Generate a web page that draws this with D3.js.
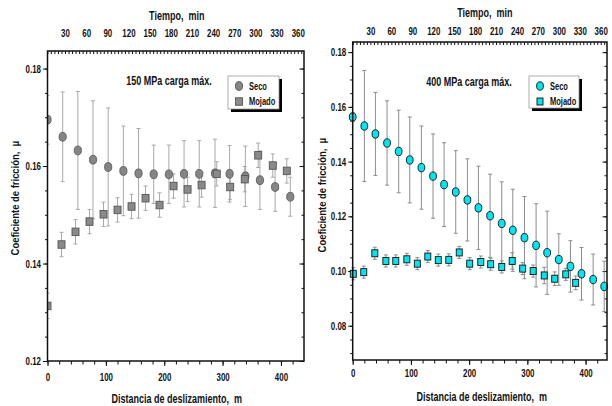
<!DOCTYPE html>
<html lang="es">
<head>
<meta charset="utf-8">
<title>Coeficiente de fricción</title>
<style>
  body { margin: 0; background: #fff; }
  text { font-family: "Liberation Sans Narrow", "Arial Narrow", "Liberation Sans", Arial, sans-serif; font-weight: bold; fill: #111; white-space: pre; }
  .ytitle { font-family: "Liberation Sans", Arial, sans-serif; font-size: 11.5px; }
</style>
</head>
<body>
<svg width="612" height="406"></svg>
<script src="https://d3js.org/d3.v7.min.js"></script>
<script>
// ticks shared by both panels
var distTicks = [0, 100, 200, 300, 400];
var tiempoTicks = [30, 60, 90, 120, 150, 180, 210, 240, 270, 300, 330, 360];

// 150 MPa - Seco (circles)
var seco150X   = [0, 26, 52, 78, 104, 130, 156, 182, 208, 234, 260, 287, 312, 339, 364, 390, 416];
var seco150Mu  = [0.1695, 0.1660, 0.1632, 0.1613, 0.1598, 0.1590, 0.1585, 0.1583, 0.1583, 0.1584, 0.1584, 0.1585, 0.1584, 0.1579, 0.1571, 0.1557, 0.1537];
var seco150Err = [0.0050, 0.0092, 0.0121, 0.0121, 0.0121, 0.0092, 0.0092, 0.0060, 0.0060, 0.0068, 0.0068, 0.0070, 0.0058, 0.0062, 0.0060, 0.0050, 0.0040];

// 150 MPa - Mojado (squares)
var mojado150X   = [0, 24, 48, 72, 96, 120, 144, 168, 192, 216, 240, 264, 290, 313, 338, 361, 386, 410];
var mojado150Mu  = [0.1313, 0.1439, 0.1465, 0.1486, 0.1501, 0.1510, 0.1517, 0.1534, 0.1520, 0.1559, 0.1552, 0.1561, 0.1584, 0.1557, 0.1573, 0.1622, 0.1601, 0.1590];
var mojado150Err = [0.0026, 0.0025, 0.0025, 0.0025, 0.0025, 0.0025, 0.0025, 0.0025, 0.0025, 0.0025, 0.0025, 0.0025, 0.0025, 0.0026, 0.0026, 0.0025, 0.0024, 0.0025];

// 400 MPa - Seco (circles)
var seco400X   = [0, 20, 39, 59, 79, 98, 118, 138, 157, 177, 197, 216, 236, 256, 275, 295, 315, 334, 354, 374, 393, 413, 432];
var seco400Mu  = [0.1563, 0.1530, 0.1501, 0.1468, 0.1437, 0.1406, 0.1378, 0.1347, 0.1316, 0.1289, 0.1260, 0.1231, 0.1202, 0.1174, 0.1149, 0.1122, 0.1094, 0.1067, 0.1042, 0.1017, 0.0990, 0.0969, 0.0944];
var seco400Err = [0.0015, 0.0203, 0.0152, 0.0154, 0.0151, 0.0157, 0.0152, 0.0154, 0.0153, 0.0151, 0.0150, 0.0152, 0.0152, 0.0152, 0.0150, 0.0150, 0.0152, 0.0152, 0.0094, 0.0094, 0.0096, 0.0093, 0.0092];

// 400 MPa - Mojado (squares)
var mojado400X   = [1, 19, 38, 57, 74, 93, 111, 129, 147, 165, 183, 201, 220, 237, 256, 274, 292, 310, 329, 347, 366, 383];
var mojado400Mu  = [0.0990, 0.0996, 0.1065, 0.1037, 0.1037, 0.1043, 0.1027, 0.1053, 0.1040, 0.1041, 0.1068, 0.1027, 0.1033, 0.1025, 0.1015, 0.1037, 0.1009, 0.1000, 0.0984, 0.0972, 0.0988, 0.0957];
var mojado400Err = [0.0022, 0.0022, 0.0022, 0.0022, 0.0022, 0.0022, 0.0022, 0.0022, 0.0022, 0.0022, 0.0022, 0.0022, 0.0022, 0.0022, 0.0022, 0.0030, 0.0022, 0.0022, 0.0030, 0.0025, 0.0022, 0.0025];

var legendLabels = ["Seco", "Mojado"];

var svg = d3.select("svg");

function zip(xs, ys, es) {
  return xs.map(function(d, i) { return {x: d, y: ys[i], e: es[i]}; });
}

function drawPanel(p) {
  var g = svg.append("g");
  var x = d3.scaleLinear().domain(p.xDomain).range([p.left, p.right]);
  var y = d3.scaleLinear().domain(p.yDomain).range([p.bottom, p.top]);
  var t = d3.scaleLinear().domain(p.tDomain).range([p.left, p.right]);

  // bottom axis: minor ticks every 20 m, labels every 100
  g.append("g").attr("transform", "translate(0," + p.bottom + ")")
    .call(d3.axisBottom(x).tickValues(d3.range(0, p.xDomain[1], 20)).tickSize(3.5).tickFormat(""));
  g.append("g").attr("transform", "translate(0," + p.bottom + ")")
    .call(d3.axisBottom(x).tickValues(distTicks).tickSize(5).tickPadding(p.xPad).tickFormat(d3.format("d")));

  // left axis: minor every 0.005, labels every 0.02
  var yMinor = d3.range(Math.ceil(p.yDomain[0] / 0.005) * 0.005, p.yDomain[1], 0.005);
  g.append("g").attr("transform", "translate(" + p.left + ",0)")
    .call(d3.axisLeft(y).tickValues(yMinor).tickSize(2.5).tickFormat(""));
  g.append("g").attr("transform", "translate(" + p.left + ",0)")
    .call(d3.axisLeft(y).tickValues(p.yTicks).tickSize(4.5).tickPadding(2).tickFormat(d3.format(".2f")));

  // right mirror ticks (inward)
  g.append("g").attr("transform", "translate(" + p.right + ",0)")
    .call(d3.axisLeft(y).tickValues(yMinor).tickSize(2.5).tickFormat(""));
  g.append("g").attr("transform", "translate(" + p.right + ",0)")
    .call(d3.axisLeft(y).tickValues(p.yTicks).tickSize(4.5).tickFormat(""));

  // top axis in minutes, ticks pointing inward
  g.append("g").attr("transform", "translate(0," + p.top + ")")
    .call(d3.axisBottom(t).tickValues(d3.range(5, p.tDomain[1], 5)).tickSize(3).tickFormat(""));
  g.append("g").attr("transform", "translate(0," + p.top + ")")
    .call(d3.axisTop(t).tickValues(tiempoTicks).tickSize(0).tickPadding(p.tPad).tickFormat(d3.format("d")));

  g.selectAll(".domain").remove();
  g.selectAll(".tick line").attr("stroke", "#111").attr("stroke-width", 1);
  g.selectAll(".tick text").attr("class", "sq-tick").style("font-size", p.tickFont);

  // titles
  g.append("text").attr("class", "sq").attr("x", (p.left + p.right) / 2 + p.tTitleDx).attr("y", p.tTitleY)
    .attr("text-anchor", "middle").style("font-size", "12px").text("Tiempo,  min");
  g.append("text").attr("class", "sq").attr("x", (p.left + p.right) / 2 + p.xTitleDx).attr("y", p.xTitleY)
    .attr("text-anchor", "middle").style("font-size", "12px")
    .text("Distancia de deslizamiento,  m");
  g.append("text").attr("class", "ytitle")
    .attr("transform", "translate(" + p.yTitleX + "," + p.yTitleY + ") rotate(-90)")
    .attr("text-anchor", "middle").text("Coeficiente de fricción,  μ");

  g.append("text").attr("class", "sq").attr("x", p.noteX).attr("y", p.noteY).attr("text-anchor", "middle")
    .style("font-size", "12px").text(p.note);

  // plot area (optionally clipped)
  var clipId = "clip" + p.id;
  svg.append("clipPath").attr("id", clipId).append("rect")
    .attr("x", p.left).attr("y", p.top).attr("width", p.right - p.left).attr("height", p.bottom - p.top);
  var plot = g.append("g");
  if (p.clip) plot.attr("clip-path", "url(#" + clipId + ")");

  var series = [
    {data: zip(p.secoX, p.secoMu, p.secoErr), shape: "circle"},
    {data: zip(p.mojX, p.mojMu, p.mojErr), shape: "square"}
  ];
  series.forEach(function(s) {
    var eb = plot.append("g").attr("stroke", p.barColor).attr("stroke-width", 1);
    eb.selectAll("line.v").data(s.data).enter().append("line")
      .attr("x1", function(d) { return x(d.x); }).attr("x2", function(d) { return x(d.x); })
      .attr("y1", function(d) { return y(d.y + d.e); }).attr("y2", function(d) { return y(d.y - d.e); });
    [1, -1].forEach(function(sg) {
      eb.selectAll("line.c" + sg).data(s.data).enter().append("line")
        .attr("x1", function(d) { return x(d.x) - 2; }).attr("x2", function(d) { return x(d.x) + 2; })
        .attr("y1", function(d) { return y(d.y + sg * d.e); }).attr("y2", function(d) { return y(d.y + sg * d.e); });
    });
  });
  series.forEach(function(s) {
    var m = plot.append("g");
    if (s.shape === "circle") {
      m.selectAll("ellipse").data(s.data).enter().append("ellipse")
        .attr("cx", function(d) { return x(d.x); }).attr("cy", function(d) { return y(d.y); })
        .attr("rx", p.rx).attr("ry", p.ry)
        .attr("fill", p.secoFill).attr("stroke", p.secoStroke).attr("stroke-width", 0.9);
    } else {
      m.selectAll("rect").data(s.data).enter().append("rect")
        .attr("x", function(d) { return x(d.x) - p.sw / 2; }).attr("y", function(d) { return y(d.y) - p.sh / 2; })
        .attr("width", p.sw).attr("height", p.sh)
        .attr("fill", p.mojFill).attr("stroke", p.mojStroke).attr("stroke-width", 0.9);
    }
  });

  // frame
  g.append("rect")
    .attr("x", p.left).attr("y", p.top)
    .attr("width", p.right - p.left).attr("height", p.bottom - p.top)
    .attr("fill", "none").attr("stroke", "#111").attr("stroke-width", 1.5);

  // legend with drop shadow
  var L = p.legend;
  g.append("rect").attr("x", L.x + 3).attr("y", L.y + 3).attr("width", L.w).attr("height", L.h).attr("fill", "#000");
  g.append("rect").attr("x", L.x).attr("y", L.y).attr("width", L.w).attr("height", L.h)
    .attr("fill", "#fff").attr("stroke", "#999").attr("stroke-width", 0.8);
  legendLabels.forEach(function(lbl, i) {
    var cy = L.y + 10 + i * 15.5;
    if (i === 0) {
      g.append("ellipse").attr("cx", L.x + 11).attr("cy", cy).attr("rx", p.rx).attr("ry", p.ry)
        .attr("fill", p.secoFill).attr("stroke", p.secoStroke).attr("stroke-width", 0.9);
    } else {
      g.append("rect").attr("x", L.x + 11 - p.sw / 2).attr("y", cy - p.sh / 2).attr("width", p.sw).attr("height", p.sh)
        .attr("fill", p.mojFill).attr("stroke", p.mojStroke).attr("stroke-width", 0.9);
    }
    g.append("text").attr("class", "sq").attr("x", L.x + 21).attr("y", cy + 3.5).style("font-size", "10px").text(lbl);
  });
}

drawPanel({
  id: "a", clip: true,
  left: 47.5, right: 304, top: 51, bottom: 361,
  xDomain: [0, 439.5], yDomain: [0.12, 0.1836], tDomain: [5.2, 368.9],
  yTicks: [0.12, 0.14, 0.16, 0.18],
  tickFont: "11px", xPad: 7, tPad: 14,
  tTitleDx: 1, tTitleY: 20, xTitleDx: 1, xTitleY: 403,
  yTitleX: 19, yTitleY: 198,
  note: "150 MPa carga máx.", noteX: 169, noteY: 85,
  secoX: seco150X, secoMu: seco150Mu, secoErr: seco150Err,
  mojX: mojado150X, mojMu: mojado150Mu, mojErr: mojado150Err,
  barColor: "#a8a8a8", rx: 3.6, ry: 4.4, sw: 7, sh: 7.5,
  secoFill: "#858585", secoStroke: "#5c5c5c", mojFill: "#8a8a8a", mojStroke: "#555",
  legend: {x: 228, y: 76, w: 51, h: 33}
});

drawPanel({
  id: "b", clip: false,
  left: 352.7, right: 607, top: 42, bottom: 360,
  xDomain: [0, 436.8], yDomain: [0.0675, 0.1837], tDomain: [4.6, 369],
  yTicks: [0.08, 0.10, 0.12, 0.14, 0.16, 0.18],
  tickFont: "11px", xPad: 4.5, tPad: 7,
  tTitleDx: 5, tTitleY: 17, xTitleDx: 2, xTitleY: 401,
  yTitleX: 326, yTitleY: 195,
  note: "400 MPa carga máx.", noteX: 469, noteY: 86,
  secoX: seco400X, secoMu: seco400Mu, secoErr: seco400Err,
  mojX: mojado400X, mojMu: mojado400Mu, mojErr: mojado400Err,
  barColor: "#8c8c8c", rx: 3.4, ry: 4.2, sw: 6, sh: 7,
  secoFill: "#00e6f0", secoStroke: "#111", mojFill: "#00e6f0", mojStroke: "#111",
  legend: {x: 529, y: 76, w: 50, h: 32}
});

// the original uses a narrow bold face; squeeze the installed sans to match
function squeeze(sel, k) {
  sel.each(function() {
    var len = this.getComputedTextLength();
    if (len > 0) {
      this.setAttribute("textLength", (len * k).toFixed(1));
      this.setAttribute("lengthAdjust", "spacingAndGlyphs");
    }
  });
}
squeeze(svg.selectAll("text.sq-tick"), 0.72);
squeeze(svg.selectAll("text.sq"), 0.75);
squeeze(svg.selectAll("text.ytitle"), 0.82);
</script>
</body>
</html>
